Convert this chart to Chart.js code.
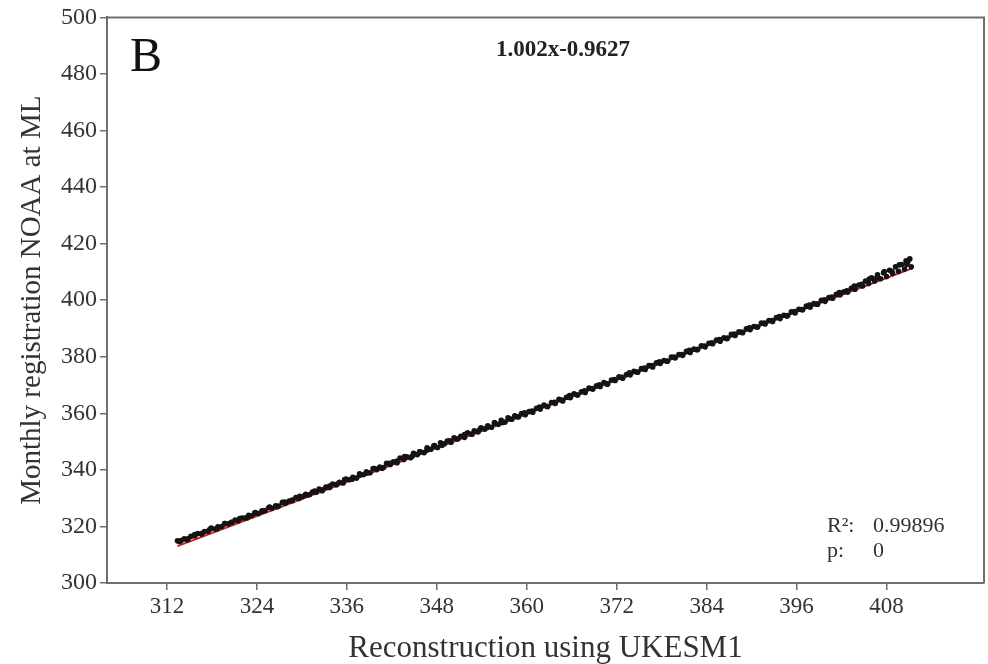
<!DOCTYPE html>
<html>
<head>
<meta charset="utf-8">
<script src="https://cdn.jsdelivr.net/npm/chart.js@4.4.1/dist/chart.umd.min.js"></script>
<style>
html,body{margin:0;padding:0;background:#fff;}
#wrap{width:988px;height:664px;}
</style>
</head>
<body>
<div id="wrap"><canvas id="c" width="988" height="664"></canvas></div>
<script>
// ---- data ----
const reconX = [
313.4,313.9,314.3,314.8,315.2,315.7,316.1,316.6,317.0,317.5,317.9,318.4,318.8,319.3,319.7,320.2,320.6,321.1,321.5,322.0,
322.4,322.9,323.3,323.8,324.2,324.7,325.1,325.6,326.0,326.5,326.9,327.4,327.8,328.3,328.7,329.2,329.6,
330.1,330.5,331.0,331.4,331.9,332.3,332.8,333.2,333.7,334.1,334.6,335.0,335.5,335.9,336.4,336.8,337.3,337.7,338.2,338.6,
339.1,339.5,340.0,340.4,340.9,341.3,341.8,342.2,342.7,343.1,343.6,344.0,344.5,344.9,345.4,345.8,346.3,346.7,347.2,347.6,
348.1,348.5,349.0,349.4,349.9,350.3,350.8,351.2,351.7,352.1,352.6,353.0,353.5,353.9,354.4,354.8,355.3,355.7,356.2,356.6,
357.1,357.5,358.0,358.4,358.9,359.3,359.8,
360.3,360.8,361.3,361.8,362.3,362.8,363.3,363.8,364.3,364.8,365.3,365.8,366.3,366.8,367.3,367.8,368.3,368.8,369.3,369.8,
370.3,370.8,371.3,371.8,372.3,372.8,373.3,373.8,374.3,374.8,375.3,375.8,376.3,376.8,377.3,377.8,378.3,378.8,379.3,379.8,
380.3,380.8,381.3,381.8,382.3,382.8,383.3,383.8,384.3,384.8,385.3,385.8,386.3,386.8,387.3,387.8,388.3,388.8,389.3,389.8,
390.3,390.8,391.3,391.8,392.3,392.8,393.3,393.8,394.3,394.8,395.3,395.8,396.3,396.8,397.3,397.8,398.3,398.8,399.3,399.8,
400.3,400.8,401.3,401.8,402.3,402.8,403.3,403.8,404.3,404.8,405.2,405.6,406.0,406.4,406.8,407.2,407.6,408.0,408.4,408.8,
409.2,409.6,410.0,410.4,410.6,410.8,411.1,411.3
];
const noaaY = [
314.9,315.0,315.6,315.6,316.5,316.6,317.5,317.3,318.2,318.3,319.4,319.1,319.9,320.0,321.0,320.9,321.5,322.3,322.0,323.0,
323.0,323.9,323.8,324.9,324.6,325.5,325.6,326.7,326.4,327.3,327.2,328.5,328.2,329.0,329.1,330.2,329.9,
330.6,331.4,331.2,332.2,332.1,333.2,333.0,333.9,333.8,335.0,334.7,335.6,335.4,336.8,336.5,337.4,337.1,338.6,338.3,339.3,
339.0,340.5,340.1,341.0,340.8,342.3,341.9,342.9,342.5,344.2,343.7,344.6,344.3,345.9,345.4,346.4,346.1,347.8,347.3,348.5,
347.9,349.6,349.2,350.2,349.8,351.3,350.9,351.9,351.5,353.1,352.7,353.8,353.4,354.9,354.4,355.6,355.1,356.7,356.1,357.5,
356.9,358.4,357.9,359.1,358.7,359.9,359.5,
360.6,360.4,361.8,361.5,362.9,362.4,363.8,363.5,365.0,364.4,365.7,365.5,366.9,366.5,367.6,367.4,368.9,368.5,369.7,369.5,
370.9,370.4,371.8,371.6,372.9,372.4,373.7,373.6,374.9,374.5,375.8,375.5,376.9,376.4,377.9,377.6,378.7,378.5,379.9,379.6,
380.8,380.5,381.9,381.5,382.7,382.6,383.9,383.5,384.8,384.6,385.9,385.5,386.7,386.6,387.9,387.5,388.8,388.5,389.9,389.6,
390.7,390.5,391.9,391.6,392.8,392.5,393.9,393.5,394.7,394.6,395.9,395.5,396.8,396.6,397.9,397.5,398.8,398.6,400.0,399.6,
400.9,400.7,402.1,401.9,403.0,402.8,404.2,403.9,405.4,405.0,406.8,405.9,407.9,406.8,409.0,407.6,409.7,408.4,410.6,409.5,
411.8,410.2,412.6,411.0,413.9,413.4,414.6,411.8
];
// more monthly points filling the band
const reconX2 = [
313.7,314.7,315.7,316.7,317.7,318.7,319.7,320.7,321.7,322.7,323.7,324.7,325.7,326.7,327.7,328.7,329.7,
330.7,331.7,332.7,333.7,334.7,335.7,336.7,337.7,338.7,339.7,340.7,341.7,342.7,343.7,344.7,345.7,346.7,347.7,348.7,349.7,
350.7,351.7,352.7,353.7,354.7,355.7,356.7,357.7,358.7,359.7,
360.7,361.7,362.7,363.7,364.7,365.7,366.7,367.7,368.7,369.7,370.7,371.7,372.7,373.7,374.7,375.7,376.7,377.7,378.7,379.7,
380.7,381.7,382.7,383.7,384.7,385.7,386.7,387.7,388.7,389.7,390.7,391.7,392.7,393.7,394.7,395.7,396.7,397.7,398.7,399.7,
400.7,401.7,402.7,403.7,404.7,405.7,406.7,407.7,408.7,409.7,410.7
];
const noaaY2 = [
314.7,315.3,317.1,317.6,318.9,319.2,321.0,321.5,322.8,323.1,324.7,325.4,326.9,327.0,328.6,329.3,330.7,
331.1,332.5,332.6,334.3,335.0,336.6,336.7,338.2,338.9,340.5,340.6,342.3,343.1,344.7,344.8,346.4,347.0,348.6,348.7,350.3,
350.9,352.5,352.6,354.2,355.0,356.4,356.7,358.1,358.8,360.2,
360.8,362.2,362.4,363.9,364.7,366.3,366.5,368.0,368.8,370.1,370.3,371.9,372.7,374.3,374.6,376.0,376.9,378.2,378.4,379.9,
380.8,382.3,382.5,383.8,384.9,386.1,386.4,388.0,388.7,390.2,390.5,391.9,392.8,394.2,394.4,396.0,396.7,398.3,398.6,400.1,
401.1,402.7,403.3,405.0,405.6,407.5,407.9,410.1,410.2,412.5,412.7
];
// regression line end points (1.002x-0.9627)
const fitX = [313.4, 411.5];
const fitY = [313.06, 411.36];
const xTickValues = [312, 324, 336, 348, 360, 372, 384, 396, 408];
const yTickValues = [300, 320, 340, 360, 380, 400, 420, 440, 460, 480, 500];
const xRange = [304, 421];
const yRange = [300, 500];
const panelLabel = 'B';
const equationText = '1.002x-0.9627';
const statLabels = ['R\u00B2:', 'p:'];
const statValues = ['0.99896', '0'];
const xTitle = 'Reconstruction using UKESM1';
const yTitle = 'Monthly registration NOAA at ML';

// ---- chart ----
const SERIF = '"Liberation Serif", "Times New Roman", serif';
const points = reconX.map((x, i) => ({x: x, y: noaaY[i]}))
  .concat(reconX2.map((x, i) => ({x: x, y: noaaY2[i]})));
const fitPts = fitX.map((x, i) => ({x: x, y: fitY[i]}));

const overlay = {
  id: 'overlay',
  afterDraw(chart) {
    const {ctx, chartArea: a} = chart;
    ctx.save();
    ctx.strokeStyle = '#6f6f6f';
    ctx.lineWidth = 2;
    ctx.beginPath();
    ctx.moveTo(a.left, a.top);
    ctx.lineTo(a.right, a.top);
    ctx.lineTo(a.right, a.bottom);
    ctx.stroke();
    ctx.fillStyle = '#111';
    ctx.textBaseline = 'alphabetic';
    ctx.textAlign = 'left';
    ctx.font = '48px ' + SERIF;
    ctx.fillText(panelLabel, a.left + 23, a.top + 54);
    ctx.font = 'bold 23px ' + SERIF;
    ctx.textAlign = 'center';
    ctx.fillStyle = '#222';
    ctx.fillText(equationText, 563, a.top + 39);
    ctx.font = '22px ' + SERIF;
    ctx.textAlign = 'left';
    ctx.fillStyle = '#333';
    ctx.fillText(statLabels[0], 827, 532);
    ctx.fillText(statValues[0], 873, 532);
    ctx.fillText(statLabels[1], 827, 557);
    ctx.fillText(statValues[1], 873, 557);
    ctx.restore();
  }
};

new Chart(document.getElementById('c'), {
  data: {
    datasets: [
      {
        type: 'scatter',
        label: 'monthly',
        data: points,
        order: 0,
        pointRadius: 2.8,
        pointBorderWidth: 0,
        pointBackgroundColor: '#141414',
        pointBorderColor: '#141414'
      },
      {
        type: 'line',
        label: 'fit',
        data: fitPts,
        order: 1,
        borderColor: '#d42020',
        borderWidth: 2,
        pointRadius: 0,
        fill: false,
        tension: 0
      }
    ]
  },
  options: {
    responsive: false,
    animation: false,
    devicePixelRatio: 1,
    layout: {padding: {left: 0, right: 3, top: 17, bottom: 0}},
    plugins: {legend: {display: false}, tooltip: {enabled: false}},
    scales: {
      x: {
        type: 'linear',
        min: xRange[0], max: xRange[1],
        afterBuildTicks: s => { s.ticks = xTickValues.map(v => ({value: v})); },
        afterFit: s => { s.height = 81; },
        grid: {drawOnChartArea: false, drawTicks: true, tickLength: 7, color: '#6f6f6f', lineWidth: 1.5},
        border: {display: true, color: '#6f6f6f', width: 2},
        ticks: {color: '#333', padding: 3, font: {family: SERIF, size: 23}, maxRotation: 0},
        title: {display: true, text: xTitle, color: '#333', font: {family: SERIF, size: 31, lineHeight: 1}, padding: {top: 0, bottom: 0}}
      },
      y: {
        type: 'linear',
        min: yRange[0], max: yRange[1],
        afterBuildTicks: s => { s.ticks = yTickValues.map(v => ({value: v})); },
        afterFit: s => { s.width = 107; },
        grid: {drawOnChartArea: false, drawTicks: true, tickLength: 7, color: '#6f6f6f', lineWidth: 1.5},
        border: {display: true, color: '#6f6f6f', width: 2},
        ticks: {color: '#333', padding: 3, font: {family: SERIF, size: 24}},
        title: {display: true, text: yTitle, color: '#333', font: {family: SERIF, size: 29, lineHeight: 1}, padding: {top: 18, bottom: 0}}
      }
    }
  },
  plugins: [overlay]
});
</script>
</body>
</html>
